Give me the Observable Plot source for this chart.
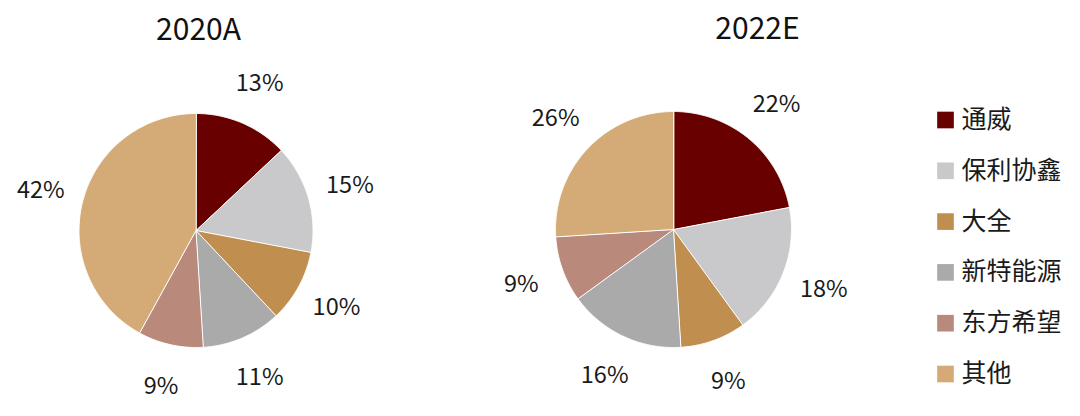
<!DOCTYPE html>
<html>
<head>
<meta charset="utf-8">
<script src="https://cdn.jsdelivr.net/npm/d3@7"></script>
<script src="https://cdn.jsdelivr.net/npm/@observablehq/plot@0.6"></script>
<style>
  html, body { margin: 0; padding: 0; background: #fff; }
  #chart svg { display: block; }
</style>
</head>
<body>
<div id="chart"></div>
<script>
// ---- data ----
const categories = ["通威", "保利协鑫", "大全", "新特能源", "东方希望", "其他"];
const years = ["2020A", "2022E"];
const share2020 = [13, 15, 10, 11, 9, 42];
const share2022 = [22, 18, 9, 16, 9, 26];
const colors = ["#680000", "#c9c8ca", "#c08e4e", "#aaaaaa", "#b98a7b", "#d4ab76"];

// ---- layout (pixel space of the 1080x416 canvas) ----
const W = 1080, H = 416;
const font = "'Noto Sans CJK SC', 'Noto Sans', sans-serif";
const pies = [
  {year: years[0], values: share2020, cx: 195.5, cy: 230, r: 117, tx: 198, ty: 30},
  {year: years[1], values: share2022, cx: 673, cy: 229, r: 118, tx: 757, ty: 29}
];
const labelK = 1.37;
const legend = {x: 945, textX: 961, y0: 119.5, dy: 50.8};

// ---- build geometry from data ----
const slicePts = [];
const labels = [];
const pieGen = d3.pie().sort(null).value(d => d.value);
pies.forEach(p => {
  const rows = categories.map((c, i) => ({cat: c, value: p.values[i]}));
  pieGen(rows).forEach(a => {
    const key = p.year + "|" + a.data.cat;
    slicePts.push({key, cat: a.data.cat, x: p.cx, y: p.cy});
    const n = Math.max(2, Math.ceil((a.endAngle - a.startAngle) / (Math.PI / 360)));
    for (let k = 0; k <= n; k++) {
      const t = a.startAngle + (a.endAngle - a.startAngle) * k / n;
      slicePts.push({key, cat: a.data.cat, x: p.cx + p.r * Math.sin(t), y: p.cy - p.r * Math.cos(t)});
    }
    const m = (a.startAngle + a.endAngle) / 2;
    labels.push({
      x: p.cx + p.r * labelK * Math.sin(m),
      y: p.cy - p.r * labelK * Math.cos(m),
      text: a.data.value + "%"
    });
  });
});
const titles = pies.map(p => ({x: p.tx, y: p.ty, text: p.year}));
const legendRows = categories.map((c, i) => ({cat: c, y: legend.y0 + i * legend.dy}));

const chart = Plot.plot({
  width: W,
  height: H,
  margin: 0,
  style: {fontFamily: font, background: "#fff"},
  x: {domain: [0, W], range: [0, W], axis: null},
  y: {domain: [0, H], range: [0, H], axis: null},
  color: {type: "ordinal", domain: categories, range: colors},
  marks: [
    Plot.line(slicePts, {x: "x", y: "y", z: "key", fill: "cat", stroke: "#fff", strokeWidth: 1, curve: "linear-closed"}),
    Plot.text(labels, {x: "x", y: "y", text: "text", fontSize: 23.5, fill: "#1a1a1a", fontFamily: font}),
    Plot.text(titles, {x: "x", y: "y", text: "text", fontSize: 30, fill: "#111", fontFamily: font}),
    Plot.dot(legendRows, {x: () => legend.x, y: "y", symbol: "square", r: 9.4, fill: "cat", stroke: null}),
    Plot.text(legendRows, {x: () => legend.textX, y: "y", text: "cat", textAnchor: "start", fontSize: 25, fill: "#1a1a1a", fontFamily: font})
  ]
});
document.getElementById("chart").appendChild(chart);
</script>
</body>
</html>
